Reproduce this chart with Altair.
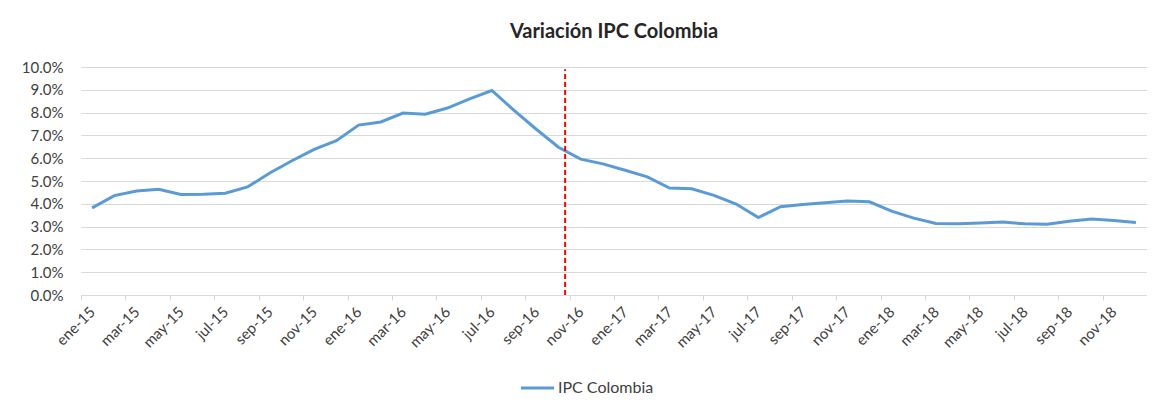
import json
import altair as alt
import pandas as pd

# Monthly annual CPI variation, Colombia (ene-15 .. dic-18), in %
month_labels = [
    "ene-15", "feb-15", "mar-15", "abr-15", "may-15", "jun-15", "jul-15", "ago-15", "sep-15", "oct-15", "nov-15", "dic-15",
    "ene-16", "feb-16", "mar-16", "abr-16", "may-16", "jun-16", "jul-16", "ago-16", "sep-16", "oct-16", "nov-16", "dic-16",
    "ene-17", "feb-17", "mar-17", "abr-17", "may-17", "jun-17", "jul-17", "ago-17", "sep-17", "oct-17", "nov-17", "dic-17",
    "ene-18", "feb-18", "mar-18", "abr-18", "may-18", "jun-18", "jul-18", "ago-18", "sep-18", "oct-18", "nov-18", "dic-18",
]
ipc_values = [
    3.82, 4.36, 4.56, 4.64, 4.41, 4.42, 4.46, 4.74, 5.35, 5.89, 6.39, 6.77,
    7.45, 7.59, 7.98, 7.93, 8.20, 8.60, 8.97, 8.10, 7.27, 6.48, 5.96, 5.75,
    5.47, 5.18, 4.69, 4.66, 4.37, 3.99, 3.40, 3.87, 3.97, 4.05, 4.12, 4.09,
    3.68, 3.37, 3.14, 3.13, 3.16, 3.20, 3.12, 3.10, 3.23, 3.33, 3.27, 3.18,
]
tick_labels = [
    "ene-15", "mar-15", "may-15", "jul-15", "sep-15", "nov-15",
    "ene-16", "mar-16", "may-16", "jul-16", "sep-16", "nov-16",
    "ene-17", "mar-17", "may-17", "jul-17", "sep-17", "nov-17",
    "ene-18", "mar-18", "may-18", "jul-18", "sep-18", "nov-18",
]
y_ticks = [0.00, 0.01, 0.02, 0.03, 0.04, 0.05, 0.06, 0.07, 0.08, 0.09, 0.10]
series_name = "IPC Colombia"
marker_month = [21.3]      # position of the red dashed reference line (month index)
marker_top = [0.099]

W, H = 1066, 228
px_month = W / len(month_labels)

df = pd.DataFrame({
    "i": list(range(len(month_labels))),
    "mes": month_labels,
    "ipc": [v / 100 for v in ipc_values],
    "serie": [series_name] * len(month_labels),
})
marker_df = pd.DataFrame({"i": marker_month, "ipc": [0.0], "ipc_top": marker_top})

# ticks on the boundary before every labelled month
boundaries = [-0.5 + 2 * k for k in range(len(tick_labels))]
label_expr = f"{json.dumps(tick_labels)}[(datum.value + 0.5) / 2]"

x_scale = alt.Scale(domain=[-0.5, len(month_labels) - 0.5], nice=False, zero=False)
y_scale = alt.Scale(domain=[0, 0.10], nice=False)

x_axis = alt.Axis(values=boundaries, labelExpr=label_expr, grid=False,
                  labelAngle=-45, labelAlign="right", labelBaseline="middle",
                  labelOffset=px_month / 2, labelPadding=9, tickSize=5,
                  tickColor="#d9d9d9", domainColor="#d9d9d9", labelFlush=False,
                  labelFontSize=15, labelColor="#404040", labelOverlap=False)
y_axis = alt.Axis(values=y_ticks, format=".1%", domain=False, ticks=False,
                  gridColor="#d9d9d9", labelPadding=18, labelFontSize=15,
                  labelColor="#404040", labelOverlap=False,
                  minExtent=60, maxExtent=60)

line = alt.Chart(df).mark_line(strokeWidth=3, interpolate="linear").encode(
    x=alt.X("i:Q", scale=x_scale, title=None, axis=x_axis),
    y=alt.Y("ipc:Q", scale=y_scale, title=None, axis=y_axis),
    color=alt.Color("serie:N", scale=alt.Scale(range=["#5b9bd5"]),
                    legend=alt.Legend(title=None, orient="none", legendX=438, legendY=314,
                                      symbolType="stroke", symbolSize=1100,
                                      symbolStrokeWidth=3, labelFontSize=16,
                                      labelColor="#404040", padding=0, labelOffset=2,
                                      clipHeight=14)),
)

marker = alt.Chart(marker_df).mark_rule(color="#ff0000", strokeWidth=2, strokeDash=[5, 3]).encode(
    x=alt.X("i:Q", scale=x_scale, title=None, axis=x_axis),
    y=alt.Y("ipc:Q", scale=y_scale, title=None, axis=y_axis),
    y2="ipc_top:Q",
)

chart = alt.layer(line, marker).properties(
    width=W, height=H,
    title=alt.Title("Variación IPC Colombia", fontSize=20, fontWeight="bold",
                    font="Lato", color="#262626", offset=18),
    padding={"left": 13, "top": 14, "right": 0, "bottom": 0},
).configure(font="Lato").configure_view(stroke=None)

chart.save("out.html", embed_options={"renderer": "svg", "actions": False})
